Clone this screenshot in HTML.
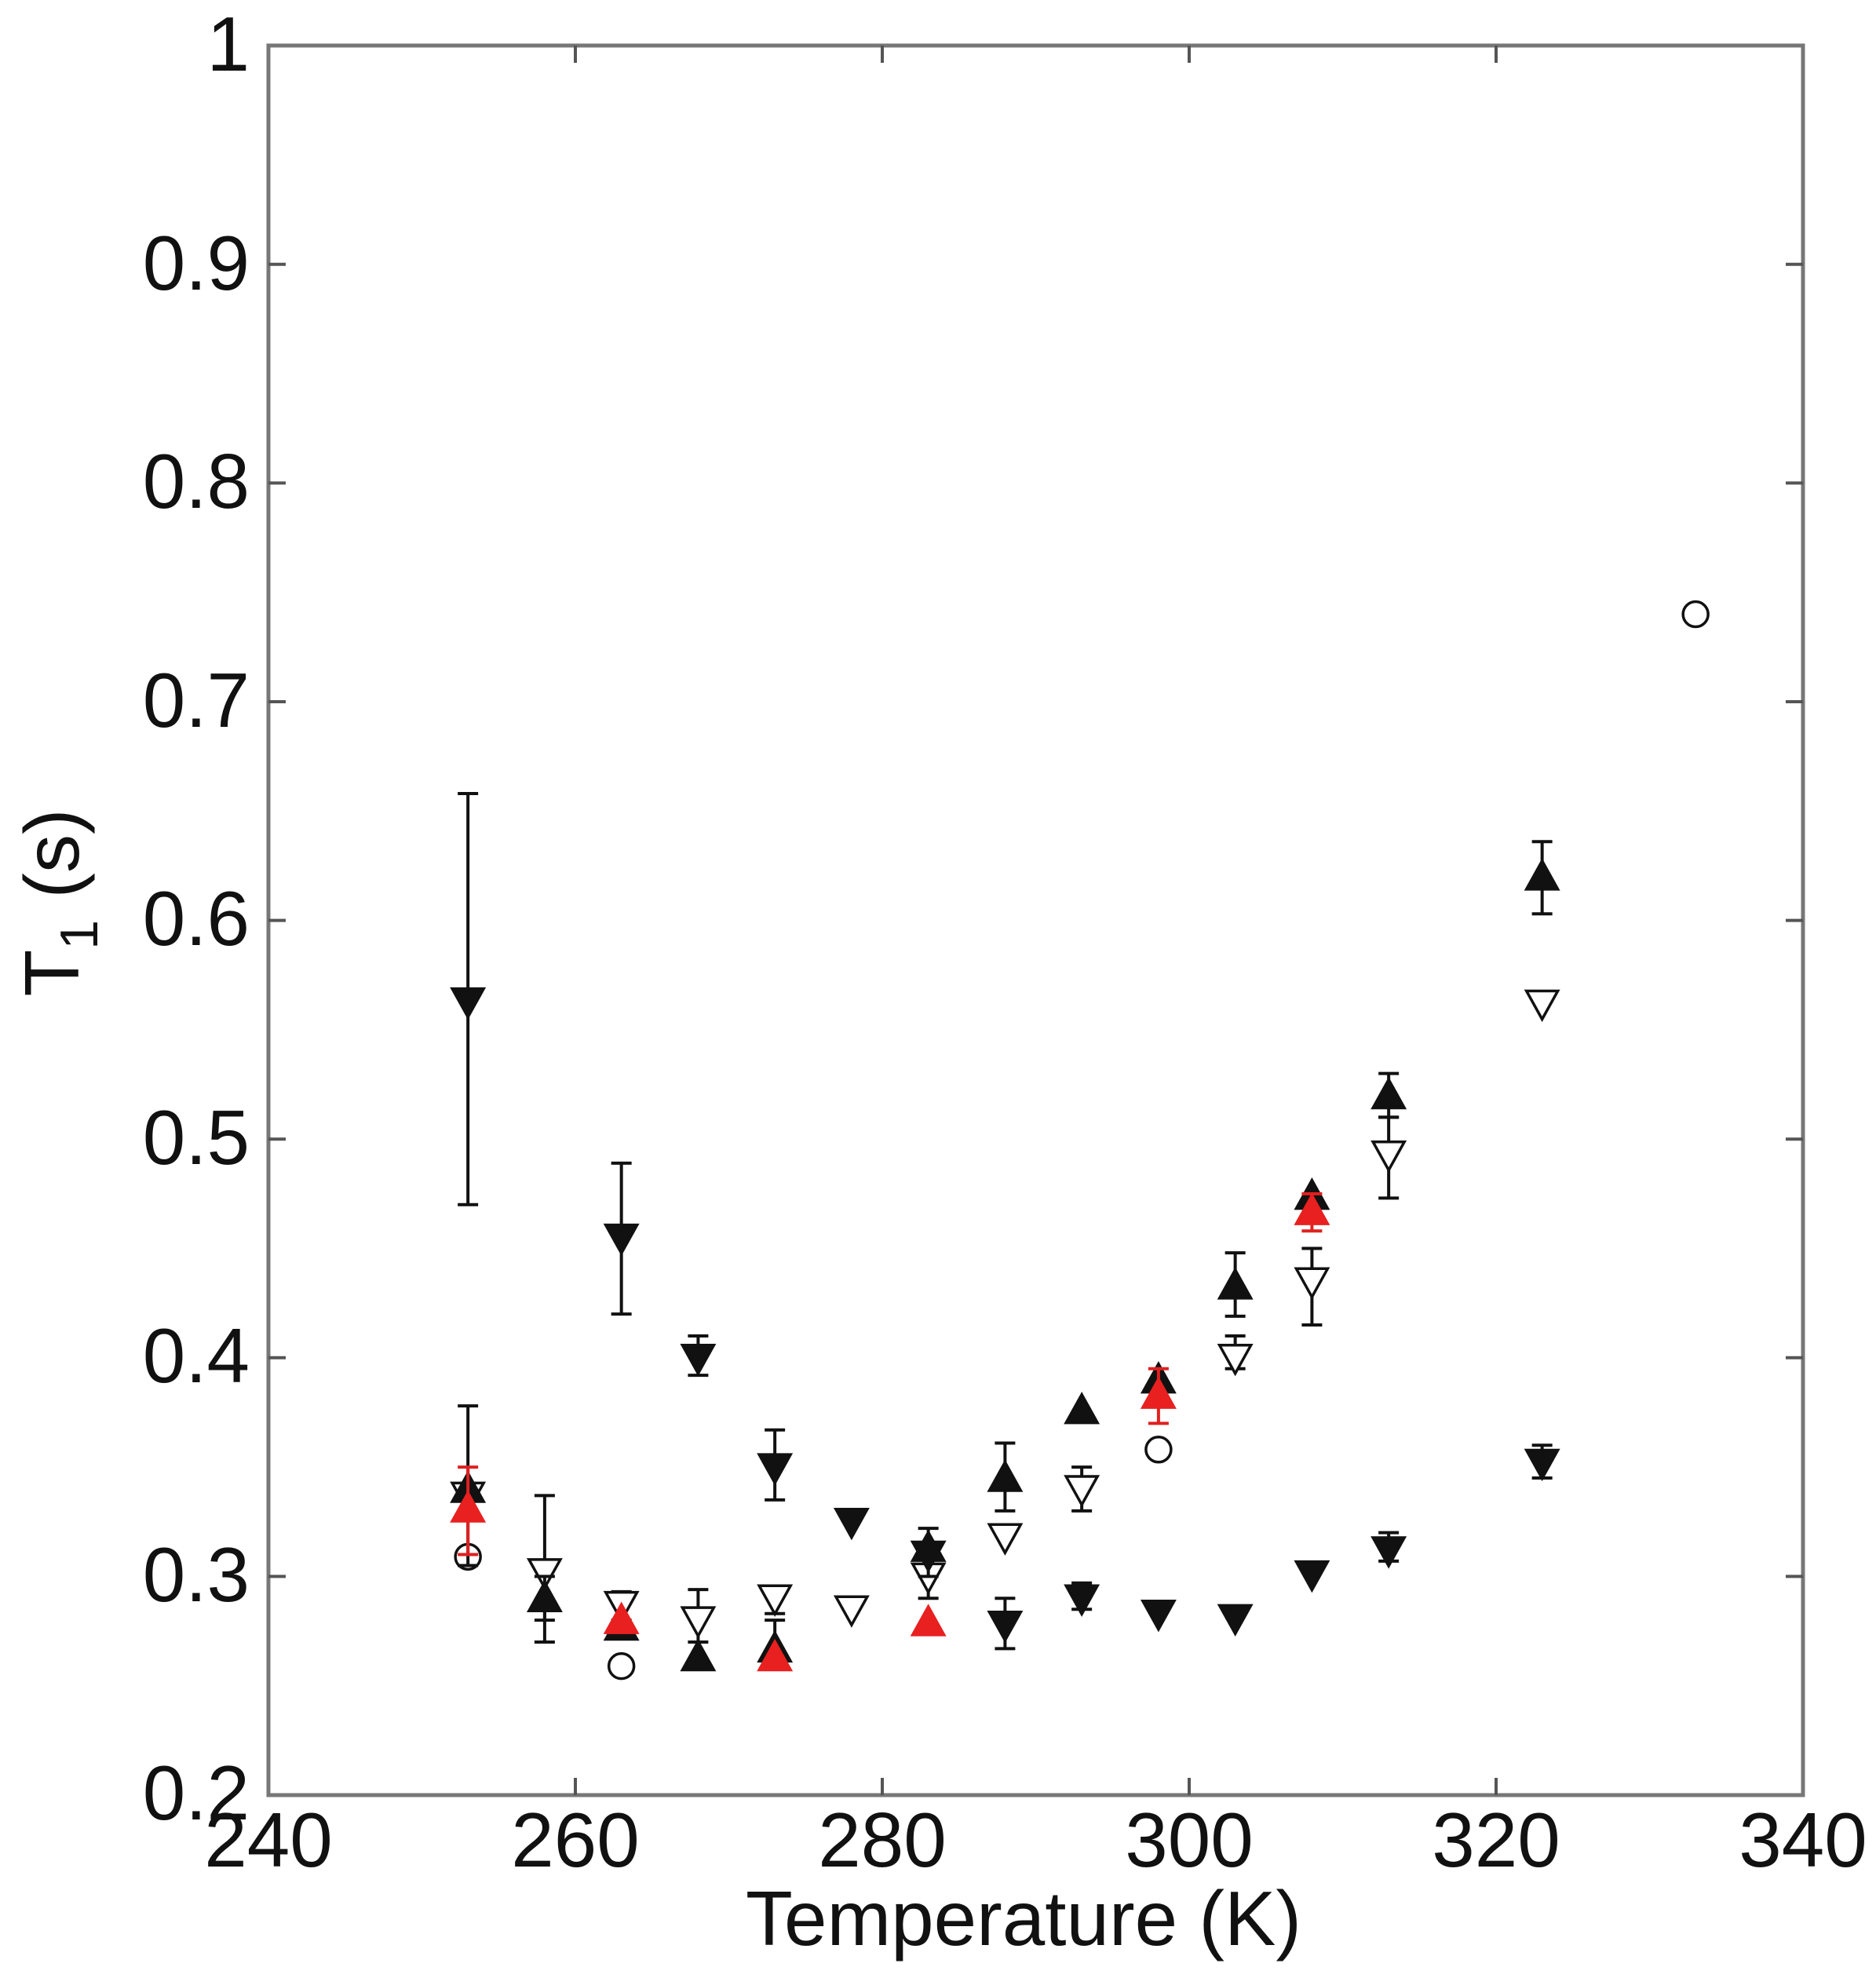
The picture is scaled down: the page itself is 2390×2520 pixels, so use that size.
<!DOCTYPE html>
<html><head><meta charset="utf-8"><style>
html,body{margin:0;padding:0;background:#fff;}
svg{display:block;}
text{font-family:"Liberation Sans",Arial,sans-serif;fill:#111;}
</style></head><body>
<svg id="s" width="2390" height="2520" viewBox="0 0 2390 2520" xmlns="http://www.w3.org/2000/svg">
<rect x="0" y="0" width="2390" height="2520" fill="#fff"/>
<g id="ax" stroke="#777" stroke-width="5" fill="none">
<rect x="342" y="58" width="1955" height="2229"/>
</g>
<g id="ticks" stroke="#555" stroke-width="4"></g>
<g font-size="98" text-anchor="middle">
<text x="342" y="2378">240</text>
<text x="733" y="2378">260</text>
<text x="1124" y="2378">280</text>
<text x="1515" y="2378">300</text>
<text x="1906" y="2378">320</text>
<text x="2297" y="2378">340</text>
</g>
<g font-size="98" text-anchor="end">
<text x="318" y="2318">0.2</text>
<text x="318" y="2040">0.3</text>
<text x="318" y="1761">0.4</text>
<text x="318" y="1483">0.5</text>
<text x="318" y="1204">0.6</text>
<text x="318" y="926">0.7</text>
<text x="318" y="647">0.8</text>
<text x="318" y="369">0.9</text>
<text x="318" y="90">1</text>
</g>
<text x="1304" y="2478" font-size="98" text-anchor="middle">Temperature (K)</text>
<text transform="translate(100,1150) rotate(-90)" font-size="98" text-anchor="middle">T<tspan font-size="68" dy="24">1</tspan><tspan dy="-24"> (s)</tspan></text>
<g id="d"></g>
</svg>
<script>
var X=function(t){return 342+(t-240)*19.55;};
var Y=function(v){return 2287-(v-0.2)*2786;};
var tk=document.getElementById('ticks'),h='';
for(var t=260;t<340;t+=20){var x=X(t);h+='<line x1="'+x+'" y1="2287" x2="'+x+'" y2="2265"/><line x1="'+x+'" y1="58" x2="'+x+'" y2="80"/>';}
for(var v=0.3;v<0.99;v+=0.1){var y=Y(v);h+='<line x1="342" y1="'+y+'" x2="364" y2="'+y+'"/><line x1="2297" y1="'+y+'" x2="2275" y2="'+y+'"/>';}
tk.innerHTML=h;
var s='';var R=20;
function eb(t,lo,hi,c){var x=X(t);c=c||'#111';s+='<g stroke="'+c+'" stroke-width="4"><line x1="'+x+'" y1="'+Y(lo)+'" x2="'+x+'" y2="'+Y(hi)+'"/><line x1="'+(x-13)+'" y1="'+Y(lo)+'" x2="'+(x+13)+'" y2="'+Y(lo)+'"/><line x1="'+(x-13)+'" y1="'+Y(hi)+'" x2="'+(x+13)+'" y2="'+Y(hi)+'"/></g>';}
function tri(t,v,up,fill,stroke){var x=X(t),y=Y(v),p;
if(up)p=[x,y-R,x-R,y+R*0.8,x+R,y+R*0.8];else p=[x,y+R,x-R,y-R*0.8,x+R,y-R*0.8];
s+='<polygon points="'+p.join(',')+'" fill="'+fill+'" stroke="'+stroke+'" stroke-width="3.5"/>';}
function circ(t,v){s+='<circle cx="'+X(t)+'" cy="'+Y(v)+'" r="16" fill="#fff" stroke="#111" stroke-width="3.5"/>';}
var od=[[253,0.337],[258,0.302,0.28,0.337],[263,0.287,0.28,0.293],[268,0.28,0.27,0.294],[273,0.29,0.283,0.295],[278,0.285],[283,0.30,0.29,0.31],[288,0.318],[293,0.34,0.33,0.35],[303,0.40,0.395,0.41],[308,0.435,0.415,0.45],[313,0.493,0.473,0.51],[323,0.562]];
od.forEach(function(d){if(d[2])eb(d[0],d[2],d[3]);tri(d[0],d[1],false,'#fff','#111');});
[[253,0.309],[263,0.259],[298,0.358],[333,0.74]].forEach(function(d){circ(d[0],d[1]);});
var fd=[[253,0.563,0.47,0.658],[263,0.455,0.42,0.489],[268,0.40,0.392,0.41],[273,0.35,0.335,0.367],[278,0.325],[283,0.31,0.30,0.322],[288,0.278,0.267,0.29],[293,0.29,0.285,0.297],[298,0.283],[303,0.281],[308,0.301],[313,0.312,0.307,0.32],[323,0.352,0.345,0.36]];
fd.forEach(function(d){if(d[2])eb(d[0],d[2],d[3]);tri(d[0],d[1],false,'#111','#111');});
var fu=[[253,0.34,0.305,0.378],[258,0.29,0.27,0.30],[263,0.277],[268,0.263],[273,0.267,0.258,0.28],[283,0.313],[288,0.345,0.33,0.361],[293,0.376],[298,0.39],[303,0.433,0.419,0.448],[308,0.474],[313,0.52,0.51,0.53],[323,0.62,0.603,0.636]];
fu.forEach(function(d){if(d[2])eb(d[0],d[2],d[3]);tri(d[0],d[1],true,'#111','#111');});
var ru=[[253,0.331,0.31,0.35],[263,0.28],[273,0.263],[283,0.279],[298,0.383,0.37,0.395],[308,0.467,0.458,0.475]];
ru.forEach(function(d){if(d[2])eb(d[0],d[2],d[3],'#e02020');tri(d[0],d[1],true,'#e82020','#e82020');});
document.getElementById('d').innerHTML=s;
</script>
</body></html>
